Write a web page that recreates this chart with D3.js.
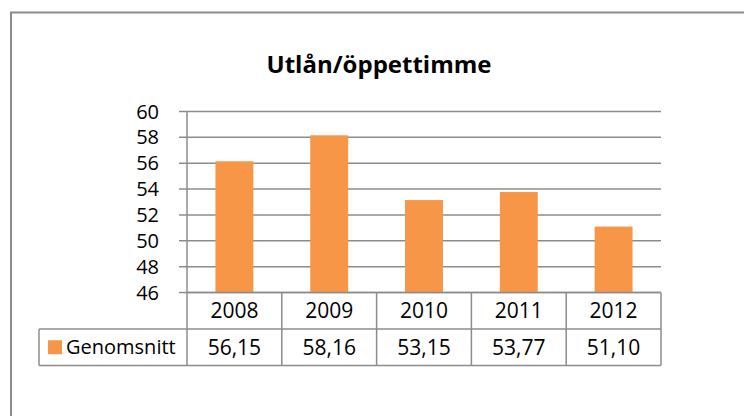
<!DOCTYPE html>
<html>
<head>
<meta charset="utf-8">
<script src="https://cdn.jsdelivr.net/npm/d3@7"></script>
<style>
  body { margin: 0; background: #fff; }
  text { font-family: "Open Sans", "Noto Sans", sans-serif; fill: #000; }
</style>
</head>
<body>
<svg id="chart" width="744" height="416"></svg>
<script>
var years = ["2008", "2009", "2010", "2011", "2012"];
var values = [56.15, 58.16, 53.15, 53.77, 51.10];
var yTicks = [46, 48, 50, 52, 54, 56, 58, 60];
var seriesName = "Genomsnitt";
var title = "Utlån/öppettimme";

(function() {
  var svg = d3.select("#chart"),
      left = 187, right = 661, top = 111.5, bottom = 292.5,
      rowH = 36.5, legendLeft = 39,
      orange = "#f79646", grid = "#8c8c8c";

  // outer chart frame (runs off the right and bottom edge)
  svg.append("rect")
    .attr("x", 11).attr("y", 12.5)
    .attr("width", 760).attr("height", 420)
    .attr("fill", "none").attr("stroke", "#8c8c8c").attr("stroke-width", 2);

  svg.append("text")
    .attr("x", 379).attr("y", 73)
    .attr("text-anchor", "middle")
    .style("font-size", "24px").style("font-weight", "bold")
    .text(title);

  var x = d3.scaleBand().domain(years).range([left, right]).paddingInner(0).paddingOuter(0);
  var y = d3.scaleLinear().domain([46, 60]).range([bottom, top]);

  // gridlines with short tick on the left
  svg.append("g").selectAll("line")
    .data(yTicks)
    .enter().append("line")
    .attr("x1", left - 8).attr("x2", right)
    .attr("y1", function(d) { return y(d); })
    .attr("y2", function(d) { return y(d); })
    .attr("stroke", grid).attr("stroke-width", 1.5);

  svg.append("g").selectAll("text")
    .data(yTicks)
    .enter().append("text")
    .attr("x", 159)
    .attr("y", function(d) { return y(d); })
    .attr("dy", "0.35em")
    .attr("text-anchor", "end")
    .style("font-size", "20px")
    .text(function(d) { return d; });

  svg.append("line")
    .attr("x1", left).attr("x2", left)
    .attr("y1", top).attr("y2", bottom)
    .attr("stroke", grid).attr("stroke-width", 1.5);

  var bw = x.bandwidth() * 0.4;
  svg.append("g").selectAll("rect")
    .data(values)
    .enter().append("rect")
    .attr("x", function(d, i) { return x(years[i]) + (x.bandwidth() - bw) / 2; })
    .attr("y", function(d) { return y(d); })
    .attr("width", bw)
    .attr("height", function(d) { return y(46) - y(d); })
    .attr("fill", orange);

  // data table
  var tbl = svg.append("g")
    .attr("fill", "none").attr("stroke", grid).attr("stroke-width", 1.5);
  tbl.append("line").attr("x1", left).attr("x2", right).attr("y1", bottom).attr("y2", bottom);
  tbl.append("line").attr("x1", legendLeft).attr("x2", right).attr("y1", bottom + rowH).attr("y2", bottom + rowH);
  tbl.append("line").attr("x1", legendLeft).attr("x2", right).attr("y1", bottom + 2 * rowH).attr("y2", bottom + 2 * rowH);
  tbl.append("line").attr("x1", legendLeft).attr("x2", legendLeft).attr("y1", bottom + rowH).attr("y2", bottom + 2 * rowH);
  tbl.selectAll("line.col")
    .data(years.concat(["end"]))
    .enter().append("line")
    .attr("class", "col")
    .attr("x1", function(d) { return d === "end" ? right : x(d); })
    .attr("x2", function(d) { return d === "end" ? right : x(d); })
    .attr("y1", bottom).attr("y2", bottom + 2 * rowH);

  svg.append("g").selectAll("text")
    .data(years)
    .enter().append("text")
    .attr("x", function(d) { return x(d) + x.bandwidth() / 2; })
    .attr("y", bottom + rowH / 2)
    .attr("dy", "0.35em")
    .attr("text-anchor", "middle")
    .style("font-size", "21px")
    .text(function(d) { return d; });

  svg.append("g").selectAll("text")
    .data(values)
    .enter().append("text")
    .attr("x", function(d, i) { return x(years[i]) + x.bandwidth() / 2; })
    .attr("y", bottom + rowH * 1.5)
    .attr("dy", "0.35em")
    .attr("text-anchor", "middle")
    .style("font-size", "21px")
    .text(function(d) { return d.toFixed(2).replace(".", ","); });

  svg.append("rect")
    .attr("x", 48).attr("y", bottom + rowH * 1.5 - 7)
    .attr("width", 14).attr("height", 14)
    .attr("fill", orange);
  svg.append("text")
    .attr("x", 66).attr("y", bottom + rowH * 1.5)
    .attr("dy", "0.35em")
    .style("font-size", "20px")
    .text(seriesName);
})();
</script>
</body>
</html>
